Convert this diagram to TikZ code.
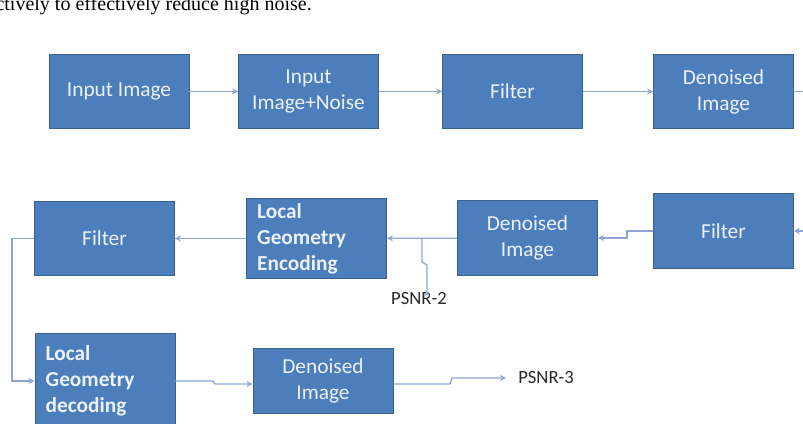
\documentclass[tikz,border=0pt]{standalone}
\usepackage{fontspec}
\setmainfont{Carlito}
\newfontfamily\paperfont{Liberation Serif}
\usepackage{tikz}
\usepackage{xcolor}
\usetikzlibrary{shapes,arrows,positioning}
\definecolor{boxblue}{RGB}{76, 126, 188}
\definecolor{boxedge}{RGB}{58, 96, 143}
\definecolor{boxtext}{RGB}{236, 242, 250}
\definecolor{wire}{RGB}{140, 165, 210}
\definecolor{labelgray}{RGB}{40, 40, 40}
\tikzstyle{block} = [
    rectangle,
    minimum width=105pt,
    minimum height=56pt,
    text centered,
    draw=boxedge,
    line width=0.6pt,
    fill=boxblue,
    text=boxtext,
    font=\fontsize{16}{19.5}\selectfont
]
\tikzstyle{leftblock} = [
    block,
    align=left,
    text width=89pt,
    inner xsep=8pt,
    font=\fontsize{16}{19.5}\selectfont\bfseries
]
\tikzstyle{arrow} = [
    line width=1pt,
    -stealth,
    draw=wire
]
\tikzstyle{line} = [
    line width=1pt,
    draw=wire
]
\tikzstyle{psnr} = [
    text=labelgray,
    inner sep=0pt,
    font=\fontsize{14}{17}\selectfont
]
\begin{document}
\begin{tikzpicture}[x=0.75pt, y=-0.75pt]
        \useasboundingbox (0,0) rectangle (803,424);
        \node[anchor=base east, inner sep=0pt, font=\paperfont\fontsize{15}{17}\selectfont] (caption) at (312,11) {ctively to effectively reduce high noise.};

        % first row
        \node[block, align=center] (inimg) at (119,91.5) {Input Image};
        \node[block, align=center] (noisy) at (308.5,91.5) {Input\\Image+Noise};
        \node[block, align=center] (filta) at (512.5,91.5) {Filter};
        \node[block, align=center] (dena) at (723.5,91.5) {Denoised\\Image};
        \coordinate (outa) at (803,91.5);

        % second row
        \coordinate (inb) at (803,231);
        \node[block, align=center] (filtb) at (723.5,231) {Filter};
        \node[block, align=center] (denb) at (527.5,238) {Denoised\\Image};
        \node[leftblock] (enc) at (316.5,238.5) {Local\\Geometry\\Encoding};
        \node[block, align=center] (filtc) at (104.5,238.5) {Filter};
        \node[psnr] (psnrb) at (419,299) {PSNR-2};

        % third row
        \node[leftblock, minimum height=72pt] (dec) at (105,381) {Local\\Geometry\\decoding};
        \node[block, align=center, minimum height=49pt] (denc) at (323,381) {Denoised\\Image};
        \node[psnr, anchor=west] (psnrc) at (518,378) {PSNR-3};

        \draw[arrow] (inimg) -- (noisy);
        \draw[arrow] (noisy) -- (filta);
        \draw[arrow] (filta) -- (dena);
        \draw[line] (dena) -- (outa);
        \draw[arrow] (inb) -- (filtb);
        \draw[arrow] (filtb.west) -- (627,231) -- (627,238) -- (denb.east);
        \draw[arrow] (denb) -- (enc);
        \draw[arrow] (422,238.5) -- (422,262) -- (427,265) -- (psnrb.north -| 427,0) ++(0,-2);
        \draw[arrow] (enc) -- (filtc);
        \draw[arrow] (filtc.west) -- (12,238.5) -- (12,381) -- (dec.west);
        \draw[arrow] (dec.east) -- (213,381) -- (215,384) -- (denc.west |- 0,384);
        \draw[arrow] (denc.east |- 0,384) -- (450,384) -- (452,378) -- ([xshift=-9pt]psnrc.west);
    \end{tikzpicture}
\end{document}
